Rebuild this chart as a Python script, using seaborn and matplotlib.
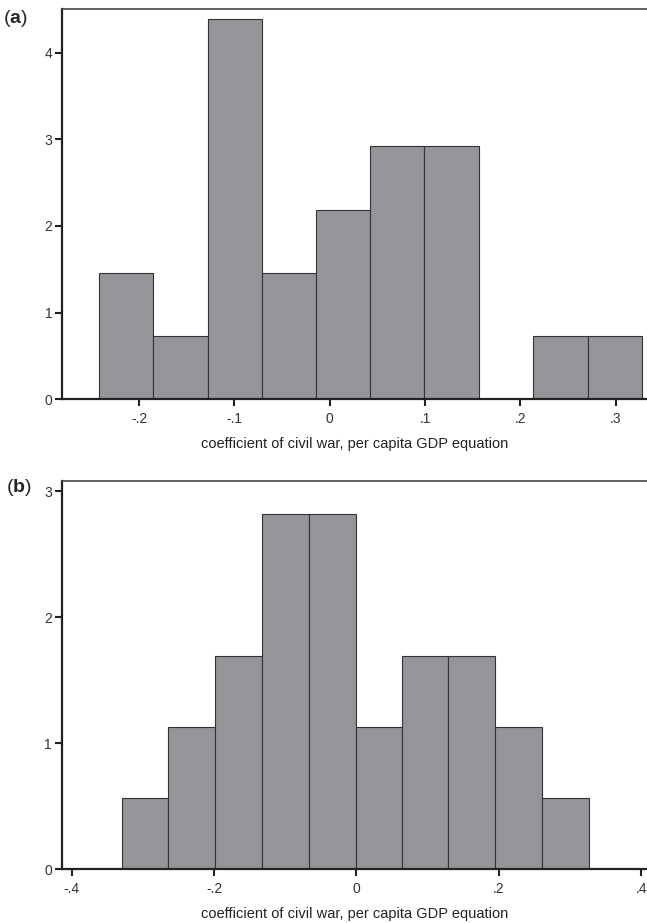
import matplotlib
matplotlib.use('Agg')
import matplotlib.pyplot as plt
import seaborn as sns

# panel (a): bin edges and density heights
edges_a = [-0.2421, -0.1857, -0.1280, -0.0714, -0.0147, 0.0426, 0.0993, 0.1567, 0.2136, 0.2707, 0.3274]
heights_a = [1.46, 0.73, 4.39, 1.46, 2.19, 2.92, 2.92, 0.0, 0.73, 0.73]
xticks_a = [-0.2, -0.1, 0.0, 0.1, 0.2, 0.3]
xticklabels_a = ['-.2', '-.1', '0', '.1', '.2', '.3']
yticks_a = [0, 1, 2, 3, 4]

# panel (b)
edges_b = [-0.3300, -0.2647, -0.1990, -0.1334, -0.0674, -0.0014, 0.0640, 0.1287, 0.1947, 0.2607, 0.3263]
heights_b = [0.565, 1.13, 1.69, 2.82, 2.82, 1.13, 1.69, 1.69, 1.13, 0.565]
xticks_b = [-0.4, -0.2, 0.0, 0.2, 0.4]
xticklabels_b = ['-.4', '-.2', '0', '.2', '.4']
yticks_b = [0, 1, 2, 3]

xlabel = 'coefficient of civil war, per capita GDP equation'

sns.set_style('ticks')
plt.rcParams['font.family'] = ['Liberation Sans', 'DejaVu Sans']
plt.rcParams['mathtext.fontset'] = 'custom'
plt.rcParams['mathtext.rm'] = 'Liberation Sans'
plt.rcParams['mathtext.bf'] = 'Liberation Sans:bold'

fig = plt.figure(figsize=(6.47, 9.23), dpi=100)
ax_a = fig.add_axes([0.0958, 0.5674, 0.9042, 0.4225])
ax_b = fig.add_axes([0.0954, 0.0582, 0.9046, 0.4207])


def draw(ax, edges, heights, xticks, xticklabels, yticks, xlim, ylim):
    mids = [(edges[i] + edges[i + 1]) / 2 for i in range(len(heights))]
    sns.histplot(x=mids, weights=heights, bins=edges, ax=ax,
                 color='#939598', edgecolor='#333333', linewidth=0.8, alpha=1)
    ax.set_xlim(*xlim)
    ax.set_ylim(*ylim)
    ax.set_xticks(xticks)
    ax.set_xticklabels(xticklabels)
    ax.set_yticks(yticks)
    ax.set_ylabel('')
    ax.set_xlabel(xlabel, fontsize=10.5, color='#222222', labelpad=8)
    ax.tick_params(axis='both', direction='out', length=5, width=1.5,
                   color='#222222', labelsize=10, labelcolor='#333333', pad=4)
    ax.tick_params(axis='y', pad=2)
    ax.spines['right'].set_visible(False)
    for side in ['left', 'bottom']:
        ax.spines[side].set_linewidth(1.6)
        ax.spines[side].set_color('#222222')
    ax.spines['top'].set_linewidth(1.2)
    ax.spines['top'].set_color('#444444')


draw(ax_a, edges_a, heights_a, xticks_a, xticklabels_a, yticks_a, (-0.281, 0.333), (0, 4.5))
draw(ax_b, edges_b, heights_b, xticks_b, xticklabels_b, yticks_b, (-0.414, 0.408), (0, 3.08))

fig.text(0.004, 0.980, r'($\mathbf{a}$)', fontsize=14, va='center', ha='left')
fig.text(0.010, 0.472, r'($\mathbf{b}$)', fontsize=14, va='center', ha='left')

fig.savefig('out.png', dpi=100)
